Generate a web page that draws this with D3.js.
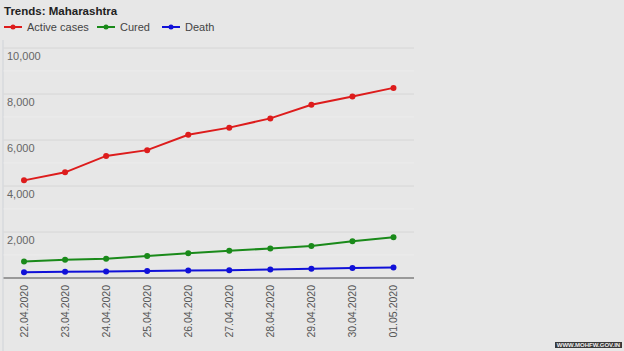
<!DOCTYPE html>
<html>
<head>
<meta charset="utf-8">
<script src="https://cdn.jsdelivr.net/npm/d3@7"></script>
<style>
  body { margin: 0; background: #e7e7e7; }
  svg { display: block; font-family: "Liberation Sans", Arial, sans-serif; }
</style>
</head>
<body>
<div id="chart"></div>
<script>
const dates = ["22.04.2020", "23.04.2020", "24.04.2020", "25.04.2020", "26.04.2020",
               "27.04.2020", "28.04.2020", "29.04.2020", "30.04.2020", "01.05.2020"];
const activeCases = [4245, 4594, 5307, 5559, 6229, 6538, 6939, 7530, 7890, 8266];
const cured = [722, 789, 840, 957, 1076, 1188, 1282, 1388, 1593, 1773];
const deaths = [251, 269, 283, 301, 323, 342, 369, 400, 432, 459];
const yTicks = [0, 2000, 4000, 6000, 8000, 10000];

const width = 624, height = 351;
const margin = { top: 48, right: 210, bottom: 73, left: 3.5 };
const innerWidth = width - margin.left - margin.right;
const innerHeight = height - margin.top - margin.bottom;

const series = [
  { name: "Active cases", values: activeCases, color: "#dd1c1c" },
  { name: "Cured", values: cured, color: "#1a8a1a" },
  { name: "Death", values: deaths, color: "#1010d8" }
];

const svg = d3.select("#chart")
  .append("svg")
  .attr("width", width)
  .attr("height", height);

svg.append("rect")
  .attr("width", width).attr("height", height)
  .attr("fill", "#e7e7e7");

// left border
svg.append("line")
  .attr("x1", 3).attr("x2", 3)
  .attr("y1", 40).attr("y2", height)
  .attr("stroke", "#cfd3d8").attr("stroke-width", 1);

// title
svg.append("text")
  .attr("x", 4).attr("y", 15)
  .attr("font-size", 11.5).attr("font-weight", "bold")
  .attr("fill", "#222")
  .text("Trends: Maharashtra");

// legend
const legendX = [4, 97, 162];
series.forEach((s, i) => {
  const g = svg.append("g").attr("transform", `translate(${legendX[i]}, 27)`);
  g.append("line").attr("x1", 0).attr("x2", 18).attr("stroke", s.color).attr("stroke-width", 2);
  g.append("circle").attr("cx", 9).attr("r", 2.5).attr("fill", s.color);
  g.append("text").attr("x", 23).attr("y", 4)
    .attr("font-size", 11).attr("fill", "#444")
    .text(s.name);
});

const chart = svg.append("g")
  .attr("transform", `translate(${margin.left}, ${margin.top})`);

const xScale = d3.scalePoint()
  .domain(dates)
  .range([0, innerWidth])
  .padding(0.5);

const yScale = d3.scaleLinear()
  .domain([0, 10000])
  .range([innerHeight, 0]);

// minor grid
chart.append("g")
  .selectAll("line")
  .data(d3.range(1000, 10000, 2000))
  .join("line")
  .attr("x1", 0).attr("x2", innerWidth)
  .attr("y1", d => yScale(d)).attr("y2", d => yScale(d))
  .attr("stroke", "#ececec").attr("stroke-width", 1);

// major grid
chart.append("g")
  .selectAll("line")
  .data(yTicks.filter(d => d > 0))
  .join("line")
  .attr("x1", 0).attr("x2", innerWidth)
  .attr("y1", d => yScale(d)).attr("y2", d => yScale(d))
  .attr("stroke", "#d6d6d6").attr("stroke-width", 1);

// y labels, sitting just under the grid lines
chart.append("g")
  .selectAll("text")
  .data(yTicks.filter(d => d > 0))
  .join("text")
  .attr("x", 3.5)
  .attr("y", d => yScale(d) + 12)
  .attr("font-size", 11)
  .attr("fill", "#666")
  .text(d => d3.format(",")(d));

// baseline
chart.append("line")
  .attr("x1", 0).attr("x2", innerWidth)
  .attr("y1", innerHeight).attr("y2", innerHeight)
  .attr("stroke", "#999").attr("stroke-width", 2);

const lineGenerator = d3.line()
  .x((d, i) => xScale(dates[i]))
  .y(d => yScale(d));

series.forEach(s => {
  chart.append("path")
    .attr("d", lineGenerator(s.values))
    .attr("fill", "none")
    .attr("stroke", s.color)
    .attr("stroke-width", 2);

  chart.append("g")
    .selectAll("circle")
    .data(s.values)
    .join("circle")
    .attr("cx", (d, i) => xScale(dates[i]))
    .attr("cy", d => yScale(d))
    .attr("r", 3)
    .attr("fill", s.color);
});

// rotated date labels
chart.append("g")
  .selectAll("text")
  .data(dates)
  .join("text")
  .attr("transform", d => `translate(${xScale(d) + 4}, ${innerHeight + 7}) rotate(-90)`)
  .attr("text-anchor", "end")
  .attr("font-size", 10.5)
  .attr("fill", "#555")
  .text(d => d);

// source stamp
svg.append("rect")
  .attr("x", 555).attr("y", 342)
  .attr("width", 67).attr("height", 6)
  .attr("fill", "#3a3a3a");
svg.append("text")
  .attr("x", 588.5).attr("y", 347)
  .attr("text-anchor", "middle")
  .attr("font-size", 6)
  .attr("font-weight", "bold")
  .attr("fill", "#f0f0f0")
  .text("WWW.MOHFW.GOV.IN");
</script>
</body>
</html>
